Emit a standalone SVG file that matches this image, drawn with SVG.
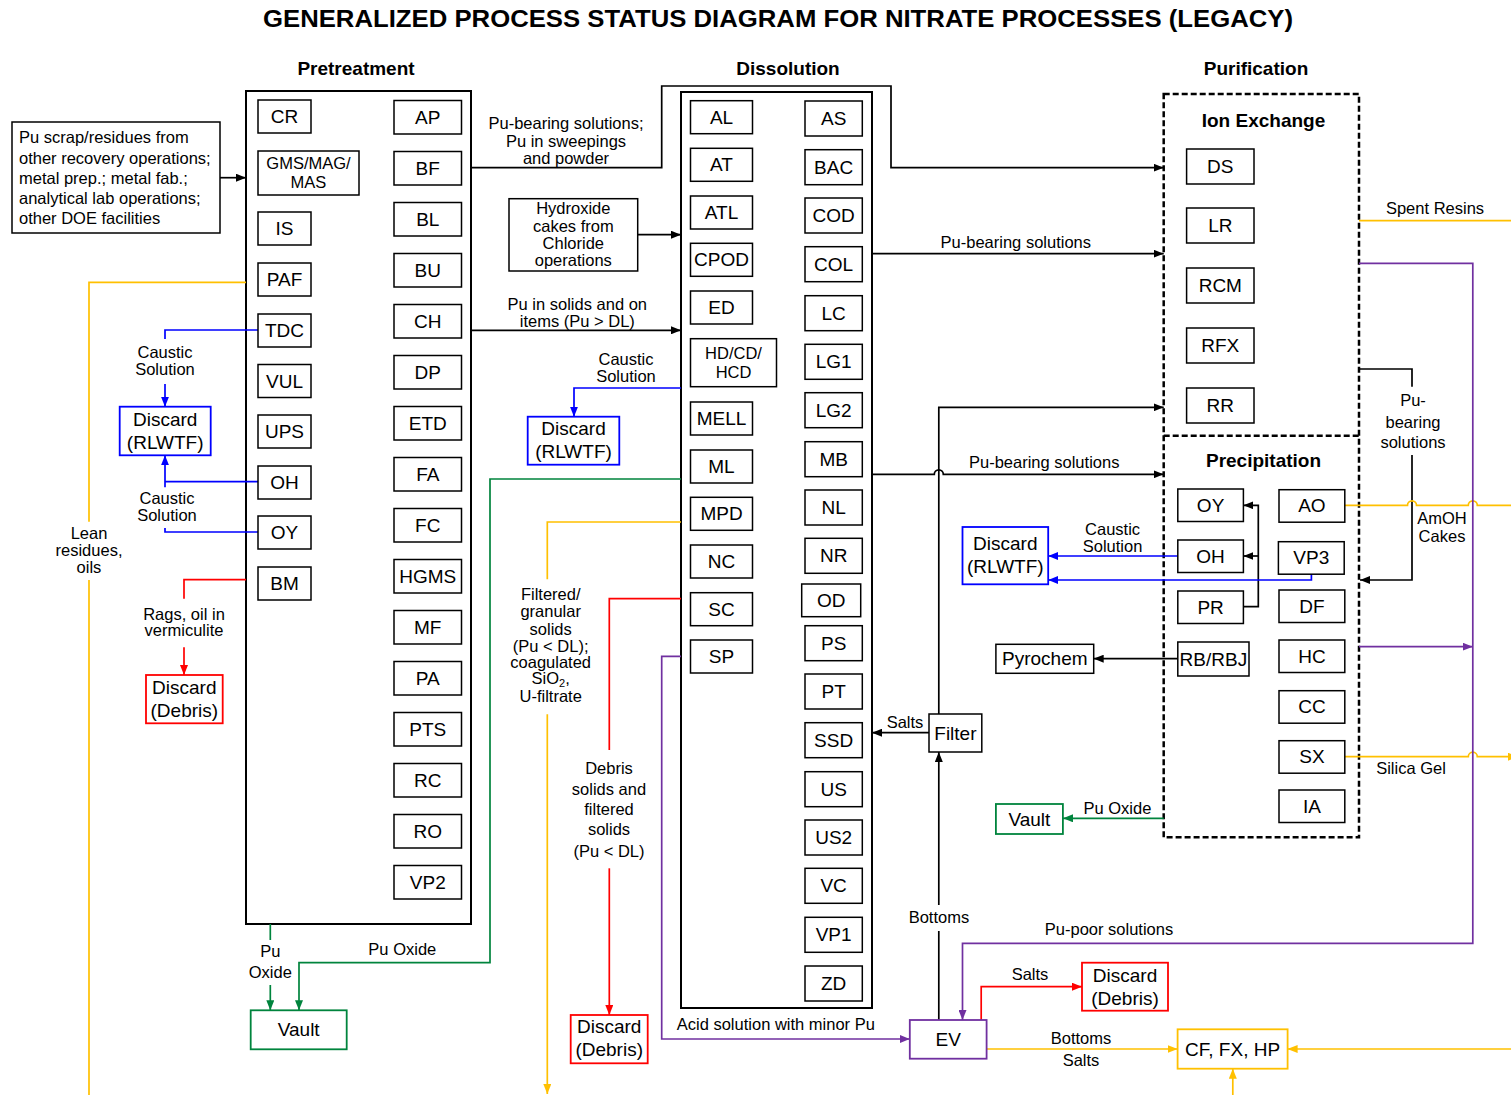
<svg xmlns="http://www.w3.org/2000/svg" width="1511" height="1095" viewBox="0 0 1511 1095">
<defs>
<style>
text{font-family:"Liberation Sans",Arial,Helvetica,sans-serif;fill:#000}
.t{font-size:19px;text-anchor:middle;dominant-baseline:central}
.s{font-size:16.5px;text-anchor:middle;dominant-baseline:central}
.sl{font-size:16.5px;dominant-baseline:central}
.h{font-size:19px;font-weight:bold;text-anchor:middle;dominant-baseline:central}
.ttl{font-size:23.5px;font-weight:bold;text-anchor:middle;dominant-baseline:central}
.bx{fill:#fff;stroke:#000;stroke-width:1.5}
.bxb{fill:#fff;stroke:#0000FF;stroke-width:1.8}
.bxr{fill:#fff;stroke:#FF0000;stroke-width:1.8}
.bxg{fill:#fff;stroke:#00843D;stroke-width:1.8}
.bxp{fill:#fff;stroke:#7030A0;stroke-width:1.8}
.bxy{fill:#fff;stroke:#FFC000;stroke-width:1.8}
.grp{fill:#fff;stroke:#000;stroke-width:2}
.dash{fill:none;stroke:#000;stroke-width:2.5;stroke-dasharray:6 3}
#connectors path{fill:none;stroke-width:1.7}
.k{stroke:#000}.bl{stroke:#0000FF}.rd{stroke:#FF0000}.gn{stroke:#00843D}.pp{stroke:#7030A0}.yl{stroke:#FFC000}
</style>
<marker id="ak" viewBox="0 0 10 8" refX="10" refY="4" markerWidth="10" markerHeight="8" markerUnits="userSpaceOnUse" orient="auto"><path d="M0,0L10,4L0,8z" fill="#000"/></marker>
<marker id="ab" viewBox="0 0 10 8" refX="10" refY="4" markerWidth="10" markerHeight="8" markerUnits="userSpaceOnUse" orient="auto"><path d="M0,0L10,4L0,8z" fill="#0000FF"/></marker>
<marker id="ar" viewBox="0 0 10 8" refX="10" refY="4" markerWidth="10" markerHeight="8" markerUnits="userSpaceOnUse" orient="auto"><path d="M0,0L10,4L0,8z" fill="#FF0000"/></marker>
<marker id="ag" viewBox="0 0 10 8" refX="10" refY="4" markerWidth="10" markerHeight="8" markerUnits="userSpaceOnUse" orient="auto"><path d="M0,0L10,4L0,8z" fill="#00843D"/></marker>
<marker id="ap" viewBox="0 0 10 8" refX="10" refY="4" markerWidth="10" markerHeight="8" markerUnits="userSpaceOnUse" orient="auto"><path d="M0,0L10,4L0,8z" fill="#7030A0"/></marker>
<marker id="ay" viewBox="0 0 10 8" refX="10" refY="4" markerWidth="10" markerHeight="8" markerUnits="userSpaceOnUse" orient="auto"><path d="M0,0L10,4L0,8z" fill="#FFC000"/></marker>
</defs>
<rect width="1511" height="1095" fill="#fff"/>

<text class="ttl" x="778" y="18.5" textLength="1030" lengthAdjust="spacingAndGlyphs">GENERALIZED PROCESS STATUS DIAGRAM FOR NITRATE PROCESSES (LEGACY)</text>
<text class="h" x="356" y="68">Pretreatment</text>
<text class="h" x="788" y="68">Dissolution</text>
<text class="h" x="1256" y="68">Purification</text>

<!-- stage containers -->
<g id="pretreatment"><rect class="grp" x="246" y="91" width="225" height="833"/></g>
<g id="dissolution"><rect class="grp" x="681" y="92" width="191" height="916"/></g>
<g id="purification">
<rect class="dash" x="1163.7" y="94" width="195.3" height="743.3"/>
<path class="dash" d="M1163.7,435.7H1359"/>
<text class="h" x="1263.5" y="120">Ion Exchange</text>
<text class="h" x="1263.5" y="460.7">Precipitation</text>
</g>

<!-- connectors -->
<g id="connectors">
<path class="k" d="M220,177.7H246" marker-end="url(#ak)"/>
<path class="k" d="M471,167.7H661.7V86H891V167.7H1163.7" marker-end="url(#ak)"/>
<path class="k" d="M637.7,234.7H681" marker-end="url(#ak)"/>
<path class="k" d="M471,330.3H681" marker-end="url(#ak)"/>
<path class="k" d="M872,253.7H1163.7" marker-end="url(#ak)"/>
<path class="k" d="M872,474.3H934.3a4.5,4.5 0 0 1 9,0H1163.7" marker-end="url(#ak)"/>
<path class="k" d="M938.8,714V407.3H1163.7" marker-end="url(#ak)"/>
<path class="k" d="M929,732.7H872" marker-end="url(#ak)"/>
<path class="k" d="M938.8,1020V931"/>
<path class="k" d="M938.8,905V752" marker-end="url(#ak)"/>
<path class="k" d="M1177.8,658.7H1093.7" marker-end="url(#ak)"/>
<path class="k" d="M1243.4,606.7H1258.3V505.3H1243.4" marker-end="url(#ak)"/>
<path class="k" d="M1258.3,556H1243.4" marker-end="url(#ak)"/>
<path class="k" d="M1359,369H1412V386.7"/>
<path class="k" d="M1412,455V580H1360" marker-end="url(#ak)"/>

<path class="bl" d="M258,330H165V339"/>
<path class="bl" d="M165,384V406.7" marker-end="url(#ab)"/>
<path class="bl" d="M258,481.7H165"/>
<path class="bl" d="M165,487.3V455.3" marker-end="url(#ab)"/>
<path class="bl" d="M258,532H165V528"/>
<path class="bl" d="M681,388H574V416.7" marker-end="url(#ab)"/>
<path class="bl" d="M1177.8,556H1048.2" marker-end="url(#ab)"/>
<path class="bl" d="M1311.4,574V580H1048.2" marker-end="url(#ab)"/>

<path class="rd" d="M246,579.7H184V598.7"/>
<path class="rd" d="M184,647.3V675" marker-end="url(#ar)"/>
<path class="rd" d="M681,598.7H609.3V750"/>
<path class="rd" d="M609.3,868.3V1015" marker-end="url(#ar)"/>
<path class="rd" d="M981.2,1020V986.7H1082" marker-end="url(#ar)"/>

<path class="gn" d="M270.3,924V940"/>
<path class="gn" d="M270.3,985V1010.3" marker-end="url(#ag)"/>
<path class="gn" d="M681,479H490V962.7H299V1010.3" marker-end="url(#ag)"/>
<path class="gn" d="M1163.7,818.3H1063" marker-end="url(#ag)"/>

<path class="yl" d="M246,282.3H89V521.7"/>
<path class="yl" d="M89,580V1095"/>
<path class="yl" d="M681,522H547.3V579.3"/>
<path class="yl" d="M547.3,714.3V1094" marker-end="url(#ay)"/>
<path class="yl" d="M1359,220.7H1511"/>
<path class="yl" d="M1344.8,505.3H1407.5a4.5,4.5 0 0 1 9,0H1468.3a4.5,4.5 0 0 1 9,0H1511"/>
<path class="yl" d="M1344.8,756.7H1468.3a4.5,4.5 0 0 1 9,0H1518" marker-end="url(#ay)"/>
<path class="yl" d="M986.6,1049H1177.6" marker-end="url(#ay)"/>
<path class="yl" d="M1511,1049H1287.6" marker-end="url(#ay)"/>
<path class="yl" d="M1232.8,1095V1068.7" marker-end="url(#ay)"/>

<path class="pp" d="M1359,263.3H1472.8V943.3H962.5V1020" marker-end="url(#ap)"/>
<path class="pp" d="M1359,646.7H1472.8" marker-end="url(#ap)"/>
<path class="pp" d="M681,656.3H661.7V1039H909.8" marker-end="url(#ap)"/>
</g>

<!-- connector labels -->
<g id="labels">
<text class="s" x="566" y="123.3">Pu-bearing solutions;</text>
<text class="s" x="566" y="141">Pu in sweepings</text>
<text class="s" x="566" y="157.7">and powder</text>
<text class="s" x="577.3" y="304.3">Pu in solids and on</text>
<text class="s" x="577.3" y="321.3">items (Pu &gt; DL)</text>
<text class="s" x="626" y="359.3">Caustic</text>
<text class="s" x="626" y="376">Solution</text>
<text class="s" x="165" y="352.3">Caustic</text>
<text class="s" x="165" y="369">Solution</text>
<text class="s" x="167" y="498.3">Caustic</text>
<text class="s" x="167" y="515">Solution</text>
<text class="s" x="89" y="533">Lean</text>
<text class="s" x="89" y="550">residues,</text>
<text class="s" x="89" y="566.7">oils</text>
<text class="s" x="184" y="613.7">Rags, oil in</text>
<text class="s" x="184" y="630.3">vermiculite</text>
<text class="s" x="270.3" y="951">Pu</text>
<text class="s" x="270.3" y="972.3">Oxide</text>
<text class="s" x="402.3" y="949.3">Pu Oxide</text>
<text class="s" x="550.7" y="594">Filtered/</text>
<text class="s" x="550.7" y="611.3">granular</text>
<text class="s" x="550.7" y="628.7">solids</text>
<text class="s" x="550.7" y="645.7">(Pu &lt; DL);</text>
<text class="s" x="550.7" y="662.3">coagulated</text>
<text class="s" x="550.7" y="678.3">SiO<tspan font-size="11" dy="5">2</tspan><tspan dy="-5">,</tspan></text>
<text class="s" x="550.7" y="696">U-filtrate</text>
<text class="s" x="609" y="768.3">Debris</text>
<text class="s" x="609" y="789">solids and</text>
<text class="s" x="609" y="809.3">filtered</text>
<text class="s" x="609" y="829.3">solids</text>
<text class="s" x="609" y="850.7">(Pu &lt; DL)</text>
<text class="s" x="775.8" y="1024.3">Acid solution with minor Pu</text>
<text class="s" x="1015.8" y="241.7">Pu-bearing solutions</text>
<text class="s" x="1044.2" y="461.7">Pu-bearing solutions</text>
<text class="s" x="905" y="722.3">Salts</text>
<text class="s" x="938.9" y="917.3">Bottoms</text>
<text class="s" x="1109" y="929.3">Pu-poor solutions</text>
<text class="s" x="1030" y="974.3">Salts</text>
<text class="s" x="1081" y="1037.7">Bottoms</text>
<text class="s" x="1081" y="1060">Salts</text>
<text class="s" x="1435" y="208">Spent Resins</text>
<text class="s" x="1413" y="400">Pu-</text>
<text class="s" x="1413" y="421.7">bearing</text>
<text class="s" x="1413" y="441.7">solutions</text>
<text class="s" x="1442" y="518.3">AmOH</text>
<text class="s" x="1442" y="535.7">Cakes</text>
<text class="s" x="1112.6" y="529.3">Caustic</text>
<text class="s" x="1112.6" y="546">Solution</text>
<text class="s" x="1411" y="768.3">Silica Gel</text>
<text class="s" x="1117.4" y="807.7">Pu Oxide</text>
</g>

<!-- sources and sinks -->
<g id="n-scrap"><rect class="bx" x="12" y="122" width="208" height="111"/>
<text class="sl" x="19" y="136.5">Pu scrap/residues from</text>
<text class="sl" x="19" y="157.5">other recovery operations;</text>
<text class="sl" x="19" y="177.5">metal prep.; metal fab.;</text>
<text class="sl" x="19" y="197.5">analytical lab operations;</text>
<text class="sl" x="19" y="217.5">other DOE facilities</text></g>
<g id="n-hydroxide"><rect class="bx" x="509" y="198.7" width="128.7" height="72.3"/>
<text class="s" x="573.3" y="208.3">Hydroxide</text>
<text class="s" x="573.3" y="225.7">cakes from</text>
<text class="s" x="573.3" y="242.7">Chloride</text>
<text class="s" x="573.3" y="260">operations</text></g>
<g id="n-discard-rlwtf-1"><rect class="bxb" x="119.7" y="406.7" width="91" height="48.6"/>
<text class="t" x="165.2" y="419.5">Discard</text><text class="t" x="165.2" y="442.5">(RLWTF)</text></g>
<g id="n-discard-debris-1"><rect class="bxr" x="146" y="675" width="76.7" height="48.3"/>
<text class="t" x="184.3" y="687.5">Discard</text><text class="t" x="184.3" y="710">(Debris)</text></g>
<g id="n-vault-1"><rect class="bxg" x="250.7" y="1010.3" width="96" height="39"/>
<text class="t" x="298.7" y="1029.8">Vault</text></g>
<g id="n-discard-rlwtf-2"><rect class="bxb" x="527.7" y="416.7" width="91.6" height="48"/>
<text class="t" x="573.5" y="428.5">Discard</text><text class="t" x="573.5" y="451">(RLWTF)</text></g>
<g id="n-discard-debris-2"><rect class="bxr" x="570.7" y="1015" width="77" height="48.3"/>
<text class="t" x="609.2" y="1026.5">Discard</text><text class="t" x="609.2" y="1049">(Debris)</text></g>
<g id="n-discard-rlwtf-3"><rect class="bxb" x="962.5" y="527" width="85.7" height="57.3"/>
<text class="t" x="1005.3" y="543.3">Discard</text><text class="t" x="1005.3" y="566">(RLWTF)</text></g>
<g id="n-pyrochem"><rect class="bx" x="995.9" y="644.3" width="97.8" height="29"/>
<text class="t" x="1044.8" y="658.8">Pyrochem</text></g>
<g id="n-filter"><rect class="bx" x="929" y="714" width="52.8" height="38"/>
<text class="t" x="955.4" y="733">Filter</text></g>
<g id="n-vault-2"><rect class="bxg" x="995.9" y="804" width="67" height="30"/>
<text class="t" x="1029.4" y="819">Vault</text></g>
<g id="n-ev"><rect class="bxp" x="909.8" y="1020" width="76.8" height="38.7"/>
<text class="t" x="948.2" y="1039.3">EV</text></g>
<g id="n-discard-debris-3"><rect class="bxr" x="1082" y="962.7" width="86" height="48"/>
<text class="t" x="1125" y="975">Discard</text><text class="t" x="1125" y="998">(Debris)</text></g>
<g id="n-cf-fx-hp"><rect class="bxy" x="1177.6" y="1029.3" width="110" height="39.4"/>
<text class="t" x="1232.6" y="1049">CF, FX, HP</text></g>

<!-- pretreatment processes -->
<g id="n-cr"><rect class="bx" x="258" y="100" width="53" height="33"/><text class="t" x="284.5" y="116.5">CR</text></g>
<g id="n-gms"><rect class="bx" x="258" y="151" width="101" height="44"/><text class="s" x="308.5" y="162.5">GMS/MAG/</text><text class="s" x="308.5" y="182">MAS</text></g>
<g id="n-is"><rect class="bx" x="258" y="212" width="53" height="33"/><text class="t" x="284.5" y="228.5">IS</text></g>
<g id="n-paf"><rect class="bx" x="258" y="263" width="53" height="33"/><text class="t" x="284.5" y="279.5">PAF</text></g>
<g id="n-tdc"><rect class="bx" x="258" y="314" width="53" height="33"/><text class="t" x="284.5" y="330.5">TDC</text></g>
<g id="n-vul"><rect class="bx" x="258" y="364.5" width="53" height="33"/><text class="t" x="284.5" y="381">VUL</text></g>
<g id="n-ups"><rect class="bx" x="258" y="415" width="53" height="33"/><text class="t" x="284.5" y="431.5">UPS</text></g>
<g id="n-oh-p"><rect class="bx" x="258" y="466" width="53" height="33"/><text class="t" x="284.5" y="482.5">OH</text></g>
<g id="n-oy-p"><rect class="bx" x="258" y="516" width="53" height="33"/><text class="t" x="284.5" y="532.5">OY</text></g>
<g id="n-bm"><rect class="bx" x="258" y="567" width="53" height="33"/><text class="t" x="284.5" y="583.5">BM</text></g>

<g id="n-ap"><rect class="bx" x="394" y="100.5" width="67.5" height="33.5"/><text class="t" x="427.75" y="117.25">AP</text></g>
<g id="n-bf"><rect class="bx" x="394" y="151.5" width="67.5" height="33.5"/><text class="t" x="427.75" y="168.25">BF</text></g>
<g id="n-bl"><rect class="bx" x="394" y="202.5" width="67.5" height="33.5"/><text class="t" x="427.75" y="219.25">BL</text></g>
<g id="n-bu"><rect class="bx" x="394" y="253.5" width="67.5" height="33.5"/><text class="t" x="427.75" y="270.25">BU</text></g>
<g id="n-ch"><rect class="bx" x="394" y="304.5" width="67.5" height="33.5"/><text class="t" x="427.75" y="321.25">CH</text></g>
<g id="n-dp"><rect class="bx" x="394" y="355.5" width="67.5" height="33.5"/><text class="t" x="427.75" y="372.25">DP</text></g>
<g id="n-etd"><rect class="bx" x="394" y="406.5" width="67.5" height="33.5"/><text class="t" x="427.75" y="423.25">ETD</text></g>
<g id="n-fa"><rect class="bx" x="394" y="457.5" width="67.5" height="33.5"/><text class="t" x="427.75" y="474.25">FA</text></g>
<g id="n-fc"><rect class="bx" x="394" y="508.5" width="67.5" height="33.5"/><text class="t" x="427.75" y="525.25">FC</text></g>
<g id="n-hgms"><rect class="bx" x="394" y="559.5" width="67.5" height="33.5"/><text class="t" x="427.75" y="576.25">HGMS</text></g>
<g id="n-mf"><rect class="bx" x="394" y="610.5" width="67.5" height="33.5"/><text class="t" x="427.75" y="627.25">MF</text></g>
<g id="n-pa"><rect class="bx" x="394" y="661.5" width="67.5" height="33.5"/><text class="t" x="427.75" y="678.25">PA</text></g>
<g id="n-pts"><rect class="bx" x="394" y="712.5" width="67.5" height="33.5"/><text class="t" x="427.75" y="729.25">PTS</text></g>
<g id="n-rc"><rect class="bx" x="394" y="763.5" width="67.5" height="33.5"/><text class="t" x="427.75" y="780.25">RC</text></g>
<g id="n-ro"><rect class="bx" x="394" y="814.5" width="67.5" height="33.5"/><text class="t" x="427.75" y="831.25">RO</text></g>
<g id="n-vp2"><rect class="bx" x="394" y="865.5" width="67.5" height="33.5"/><text class="t" x="427.75" y="882.25">VP2</text></g>

<!-- dissolution processes -->
<g id="n-al"><rect class="bx" x="690.5" y="100.7" width="62" height="33"/><text class="t" x="721.5" y="117.2">AL</text></g>
<g id="n-at"><rect class="bx" x="690.5" y="148.3" width="62" height="33"/><text class="t" x="721.5" y="164.8">AT</text></g>
<g id="n-atl"><rect class="bx" x="690.5" y="196" width="62" height="33"/><text class="t" x="721.5" y="212.5">ATL</text></g>
<g id="n-cpod"><rect class="bx" x="690.5" y="243.3" width="62" height="33"/><text class="t" x="721.5" y="259.8">CPOD</text></g>
<g id="n-ed"><rect class="bx" x="690.5" y="291" width="62" height="33"/><text class="t" x="721.5" y="307.5">ED</text></g>
<g id="n-hd"><rect class="bx" x="690.5" y="338.7" width="86" height="48"/><text class="s" x="733.5" y="352.7">HD/CD/</text><text class="s" x="733.5" y="372.3">HCD</text></g>
<g id="n-mell"><rect class="bx" x="690.5" y="402" width="62" height="33"/><text class="t" x="721.5" y="418.5">MELL</text></g>
<g id="n-ml"><rect class="bx" x="690.5" y="450" width="62" height="33"/><text class="t" x="721.5" y="466.5">ML</text></g>
<g id="n-mpd"><rect class="bx" x="690.5" y="497.3" width="62" height="33"/><text class="t" x="721.5" y="513.8">MPD</text></g>
<g id="n-nc"><rect class="bx" x="690.5" y="545" width="62" height="33"/><text class="t" x="721.5" y="561.5">NC</text></g>
<g id="n-sc"><rect class="bx" x="690.5" y="592.7" width="62" height="33"/><text class="t" x="721.5" y="609.2">SC</text></g>
<g id="n-sp"><rect class="bx" x="690.5" y="640" width="62" height="33"/><text class="t" x="721.5" y="656.5">SP</text></g>

<g id="n-as"><rect class="bx" x="805" y="101" width="57.3" height="35"/><text class="t" x="833.65" y="118.5">AS</text></g>
<g id="n-bac"><rect class="bx" x="805" y="149.7" width="57.3" height="35"/><text class="t" x="833.65" y="167.2">BAC</text></g>
<g id="n-cod"><rect class="bx" x="805" y="198" width="57.3" height="35"/><text class="t" x="833.65" y="215.5">COD</text></g>
<g id="n-col"><rect class="bx" x="805" y="246.7" width="57.3" height="35"/><text class="t" x="833.65" y="264.2">COL</text></g>
<g id="n-lc"><rect class="bx" x="805" y="295.7" width="57.3" height="35"/><text class="t" x="833.65" y="313.2">LC</text></g>
<g id="n-lg1"><rect class="bx" x="805" y="344.3" width="57.3" height="35"/><text class="t" x="833.65" y="361.8">LG1</text></g>
<g id="n-lg2"><rect class="bx" x="805" y="392.7" width="57.3" height="35"/><text class="t" x="833.65" y="410.2">LG2</text></g>
<g id="n-mb"><rect class="bx" x="805" y="441.7" width="57.3" height="35"/><text class="t" x="833.65" y="459.2">MB</text></g>
<g id="n-nl"><rect class="bx" x="805" y="490" width="57.3" height="35"/><text class="t" x="833.65" y="507.5">NL</text></g>
<g id="n-nr"><rect class="bx" x="805" y="538.3" width="57.3" height="35"/><text class="t" x="833.65" y="555.8">NR</text></g>
<g id="n-od"><rect class="bx" x="801.7" y="584" width="59" height="32.7"/><text class="t" x="831.2" y="600.35">OD</text></g>
<g id="n-ps"><rect class="bx" x="805" y="625.7" width="57.3" height="35"/><text class="t" x="833.65" y="643.2">PS</text></g>
<g id="n-pt"><rect class="bx" x="805" y="674" width="57.3" height="35"/><text class="t" x="833.65" y="691.5">PT</text></g>
<g id="n-ssd"><rect class="bx" x="805" y="722.7" width="57.3" height="35"/><text class="t" x="833.65" y="740.2">SSD</text></g>
<g id="n-us"><rect class="bx" x="805" y="771.7" width="57.3" height="35"/><text class="t" x="833.65" y="789.2">US</text></g>
<g id="n-us2"><rect class="bx" x="805" y="820" width="57.3" height="35"/><text class="t" x="833.65" y="837.5">US2</text></g>
<g id="n-vc"><rect class="bx" x="805" y="868.3" width="57.3" height="35"/><text class="t" x="833.65" y="885.8">VC</text></g>
<g id="n-vp1"><rect class="bx" x="805" y="917.3" width="57.3" height="35"/><text class="t" x="833.65" y="934.8">VP1</text></g>
<g id="n-zd"><rect class="bx" x="805" y="966" width="57.3" height="35"/><text class="t" x="833.65" y="983.5">ZD</text></g>

<!-- ion exchange processes -->
<g id="n-ds"><rect class="bx" x="1186.6" y="149" width="67.4" height="35"/><text class="t" x="1220.3" y="166.5">DS</text></g>
<g id="n-lr"><rect class="bx" x="1186.6" y="208" width="67.4" height="35"/><text class="t" x="1220.3" y="225.5">LR</text></g>
<g id="n-rcm"><rect class="bx" x="1186.6" y="268" width="67.4" height="35"/><text class="t" x="1220.3" y="285.5">RCM</text></g>
<g id="n-rfx"><rect class="bx" x="1186.6" y="328" width="67.4" height="35"/><text class="t" x="1220.3" y="345.5">RFX</text></g>
<g id="n-rr"><rect class="bx" x="1186.6" y="388" width="67.4" height="35"/><text class="t" x="1220.3" y="405.5">RR</text></g>

<!-- precipitation processes -->
<g id="n-oy"><rect class="bx" x="1177.8" y="489" width="65.6" height="32.5"/><text class="t" x="1210.6" y="505.25">OY</text></g>
<g id="n-oh"><rect class="bx" x="1177.8" y="540" width="65.6" height="32.5"/><text class="t" x="1210.6" y="556.25">OH</text></g>
<g id="n-pr"><rect class="bx" x="1177.8" y="591" width="65.6" height="32.5"/><text class="t" x="1210.6" y="607.25">PR</text></g>
<g id="n-rb"><rect class="bx" x="1177.8" y="642" width="71.2" height="34"/><text class="t" x="1213.4" y="659" font-size="16.5">RB/RBJ</text></g>
<g id="n-ao"><rect class="bx" x="1279" y="489.7" width="65.8" height="32.5"/><text class="t" x="1311.9" y="505.95">AO</text></g>
<g id="n-vp3"><rect class="bx" x="1278.4" y="541.7" width="65.8" height="32.5"/><text class="t" x="1311.3" y="557.95">VP3</text></g>
<g id="n-df"><rect class="bx" x="1279" y="590" width="65.8" height="32.5"/><text class="t" x="1311.9" y="606.25">DF</text></g>
<g id="n-hc"><rect class="bx" x="1279" y="640" width="65.8" height="32.5"/><text class="t" x="1311.9" y="656.25">HC</text></g>
<g id="n-cc"><rect class="bx" x="1279" y="690.7" width="65.8" height="32.5"/><text class="t" x="1311.9" y="706.95">CC</text></g>
<g id="n-sx"><rect class="bx" x="1279" y="740.7" width="65.8" height="32.5"/><text class="t" x="1311.9" y="756.95">SX</text></g>
<g id="n-ia"><rect class="bx" x="1279" y="790" width="65.8" height="32.5"/><text class="t" x="1311.9" y="806.25">IA</text></g>
</svg>
